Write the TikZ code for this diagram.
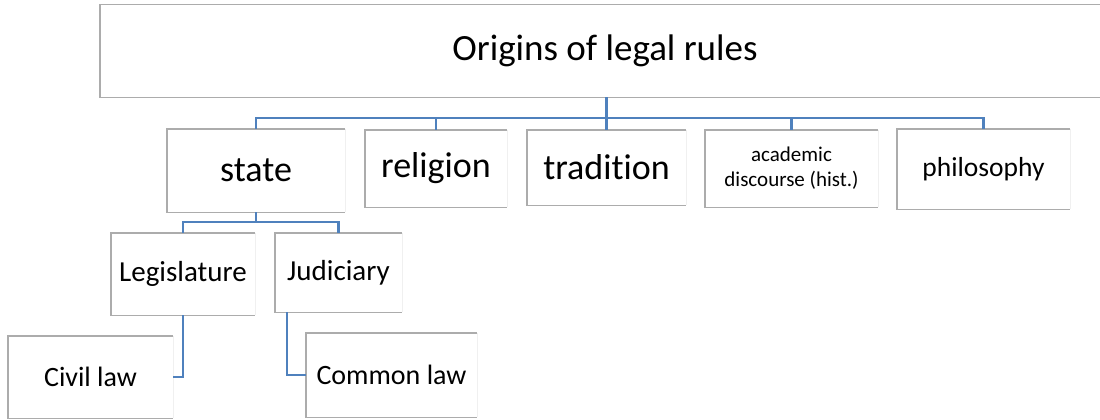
\documentclass[tikz,border=0pt]{standalone}
\usepackage{fontspec}
\setmainfont{Carlito}[Ligatures=NoCommon]
\usetikzlibrary{calc}
\definecolor{linkblue}{RGB}{79,129,189}
\begin{document}
\begin{tikzpicture}[x=1pt,y=-1pt,
        box/.style={rectangle,inner sep=0pt,align=center},
        edge/.style={draw=gray!65,line width=1.4pt},
        faint/.style={draw=gray!12,line width=1pt},
        link/.style={draw=linkblue,line width=2.4pt}]
    \useasboundingbox (0,0) rectangle (1100,420);

    % top of the chart
    \node[box,minimum width=1010pt,minimum height=92pt,
        font=\fontsize{37}{44}\selectfont] (origins) at (605,51) {Origins of legal rules};

    % second row
    \node[box,minimum width=178pt,minimum height=83pt,
        font=\fontsize{36}{43}\selectfont] (state) at (256,170.5) {state};
    \node[box,minimum width=142pt,minimum height=77pt,
        font=\fontsize{36}{43}\selectfont] (religion) at (436,168.5) {religion};
    \node[box,minimum width=159pt,minimum height=75pt,
        font=\fontsize{36}{43}\selectfont] (tradition) at (606.5,167.5) {tradition};
    \node[box,minimum width=173pt,minimum height=77pt,
        font=\fontsize{21}{25}\selectfont] (academic) at (791.5,168.5) {academic\\discourse (hist.)};
    \node[box,minimum width=173pt,minimum height=80pt,
        font=\fontsize{27.5}{33}\selectfont] (philosophy) at (983.5,169) {philosophy};

    % below state
    \node[box,minimum width=144pt,minimum height=82pt,
        font=\fontsize{29}{35}\selectfont] (legislature) at (183,274) {Legislature};
    \node[box,minimum width=127pt,minimum height=79pt,
        font=\fontsize{29}{35}\selectfont] (judiciary) at (338.5,272.5) {Judiciary};
    \node[box,minimum width=165pt,minimum height=82pt,
        font=\fontsize{28}{34}\selectfont] (civil) at (90.5,377) {Civil law};
    \node[box,minimum width=171pt,minimum height=84pt,
        font=\fontsize{28}{34}\selectfont] (common) at (391.5,375) {Common law};

    % box edges: left, top and bottom
    \foreach \n in {origins,state,religion,tradition,academic,philosophy,
            legislature,judiciary,civil,common}{
        \draw[faint] (\n.north east) -- (\n.south east);
        \draw[edge] (\n.north east) -- (\n.north west) -- (\n.south west) -- (\n.south east);
    }

    % connectors
    \coordinate (bus) at (0,118);
    \coordinate (subbus) at (0,222);
    \draw[link] (origins.south -| tradition.north) -- (tradition.north |- bus);
    \draw[link] (state.north) |- (bus -| philosophy.north) -- (philosophy.north);
    \foreach \n in {religion,tradition,academic}
        \draw[link] (bus -| \n.north) -- (\n.north);
    \draw[link] (state.south) -- (state.south |- subbus);
    \draw[link] (legislature.north) |- (subbus -| judiciary.north) -- (judiciary.north);
    \draw[link] (legislature.south) |- (civil.east);
    \draw[link] ([xshift=-51.5pt]judiciary.south) |- (common.west);
\end{tikzpicture}
\end{document}
